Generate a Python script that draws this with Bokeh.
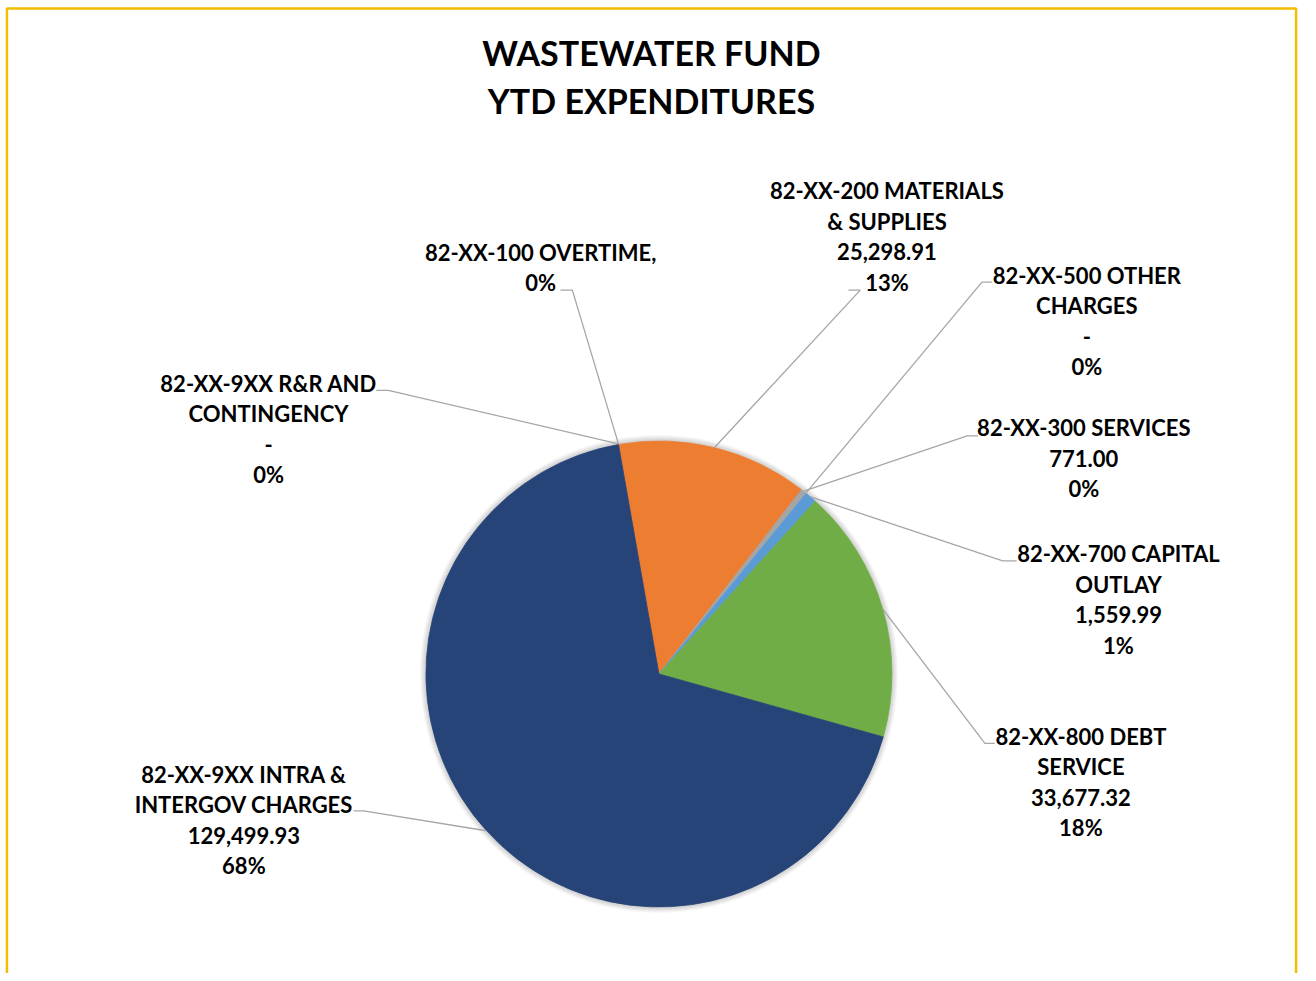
import math
from bokeh.plotting import figure
from bokeh.models import Range1d
from bokeh.core.properties import value
from bokeh.embed import file_html
from bokeh.resources import INLINE

# ---------------- data ----------------
categories = [
    "82-XX-100 OVERTIME",
    "82-XX-200 MATERIALS & SUPPLIES",
    "82-XX-300 SERVICES",
    "82-XX-500 OTHER CHARGES",
    "82-XX-700 CAPITAL OUTLAY",
    "82-XX-800 DEBT SERVICE",
    "82-XX-9XX INTRA & INTERGOV CHARGES",
    "82-XX-9XX R&R AND CONTINGENCY",
]
amounts = [0.0, 25298.91, 771.00, 0.0, 1559.99, 33677.32, 129499.93, 0.0]
amount_labels = [None, "25,298.91", "771.00", "-", "1,559.99", "33,677.32", "129,499.93", "-"]
name_lines = [
    ["82-XX-100 OVERTIME,"],
    ["82-XX-200 MATERIALS", "& SUPPLIES"],
    ["82-XX-300 SERVICES"],
    ["82-XX-500 OTHER", "CHARGES"],
    ["82-XX-700 CAPITAL", "OUTLAY"],
    ["82-XX-800 DEBT", "SERVICE"],
    ["82-XX-9XX INTRA &", "INTERGOV CHARGES"],
    ["82-XX-9XX R&R AND", "CONTINGENCY"],
]
colors = ["#4472C4", "#ED7D31", "#A5A5A5", "#FFC000", "#5B9BD5", "#70AD47", "#264478", "#9E480E"]
title_lines = ["WASTEWATER FUND", "YTD EXPENDITURES"]

# ---------------- layout (reference pixel coords) ----------------
W, H = 1302, 973          # figure size on the page
RW, RH = 1316, 981        # reference coordinate space
def X(px): return px
def Y(py): return RH - py

CX, CY, R = 665.5, 679, 235.5
FIRST_SLICE = 350.0  # degrees, clockwise from 12 o'clock

label_pos = [(546, 254), (896, 192), (1095, 431), (1098, 277),
             (1130, 558), (1092, 742), (246, 780), (271, 386)]
leader_pos = [(566, 292, 578), (857, 292, 869), (988, 439, 977), (1002, 284, 992),
              (1027, 565, 1013), (1005, 749, 995), (357, 817, 367), (380, 393, 392)]
LINE_H = 30.7
FONT = "Lato"

p = figure(width=W, height=H, x_range=Range1d(0, RW), y_range=Range1d(0, RH),
           output_backend="svg", toolbar_location=None, min_border=0,
           background_fill_color="white", border_fill_color="white")
p.axis.visible = False
p.grid.visible = False
p.outline_line_color = None

# border (top, left, right)
gold = "#F5BD02"
p.multi_line(xs=[[X(6.5), X(6.5), X(1309.5), X(1309.5)]],
             ys=[[Y(995), Y(8), Y(8), Y(995)]], line_color=gold, line_width=2.5)

# soft shadow
for k in range(1, 7):
    p.circle(x=[X(CX)], y=[Y(CY)], radius=R + k, fill_color="#000000",
             fill_alpha=0.03, line_color=None)

total = sum(amounts)
start = math.radians(90 - FIRST_SLICE)
cum = start
mids = []
for i, a in enumerate(amounts):
    span = 2 * math.pi * a / total
    end = cum - span
    if a > 0:
        p.wedge(x=[X(CX)], y=[Y(CY)], radius=R, start_angle=end, end_angle=cum,
                fill_color=colors[i], line_color=colors[i], line_width=0.8)
    mids.append((cum + end) / 2)
    cum = end

# leader lines
for i in range(len(amounts)):
    m = mids[i]
    ex = CX + R * math.cos(m)
    ey = CY - R * math.sin(m)
    lx, ly, elx = leader_pos[i]
    p.line(x=[X(lx), X(elx), X(ex)], y=[Y(ly), Y(ly), Y(ey)],
           line_color="#A6A6A6", line_width=1.3)

# data labels
for i in range(len(amounts)):
    pct = f"{round(amounts[i] / total * 100):.0f}%"
    lines = list(name_lines[i])
    if amount_labels[i] is not None:
        lines.append(amount_labels[i])
    lines.append(pct)
    cx, y1 = label_pos[i]
    xs = [X(cx)] * len(lines)
    ys = [Y(y1 + j * LINE_H) for j in range(len(lines))]
    p.text(x=xs, y=ys, text=lines, text_align="center", text_baseline="middle",
           text_font=value(FONT), text_font_style="bold", text_font_size="22px",
           text_color="#000000")

# title
p.text(x=[X(658), X(658)], y=[Y(52), Y(101)], text=title_lines,
       text_align="center", text_baseline="middle", text_font=value(FONT),
       text_font_style="bold", text_font_size="34px", text_color="#000000")

open("out.html", "w").write(file_html(p, INLINE))
